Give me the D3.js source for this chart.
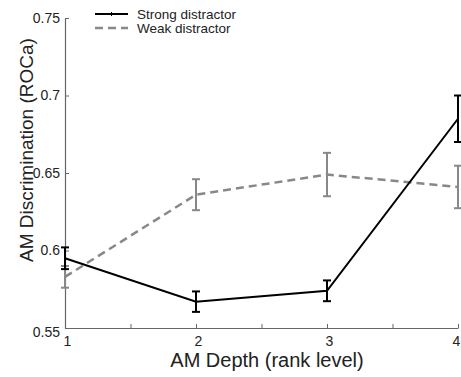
<!DOCTYPE html>
<html><head><meta charset="utf-8">
<script src="https://cdn.jsdelivr.net/npm/d3@7"></script>
<style>body{margin:0;background:#fff}svg{display:block}text{font-family:"Liberation Sans",Arial,sans-serif}</style>
</head><body>
<svg id="c" width="461" height="377"></svg>
<script>
const depths = [1, 2, 3, 4];
const strongMean = [0.595, 0.567, 0.574, 0.685];
const strongErr = [0.007, 0.0066, 0.0067, 0.015];
const weakMean = [0.583, 0.636, 0.649, 0.641];
const weakErr = [0.007, 0.010, 0.014, 0.0137];
const xTicks = [1, 1.5, 2, 2.5, 3, 3.5, 4];
const xTickLabels = ["1", "", "2", "", "3", "", "4"];
const yTicks = [0.55, 0.6, 0.65, 0.7, 0.75];
const yTickLabels = ["0.55", "0.6", "0.65", "0.7", "0.75"];
const seriesNames = ["Strong distractor", "Weak distractor"];

const svg = d3.select("#c");
const x = d3.scaleLinear().domain([1, 4]).range([65, 458]);
const y = d3.scaleLinear().domain([0.55, 0.75]).range([328, 18]);
const axisColor = "#666";

// axes
const xa = svg.append("g").attr("transform", `translate(0,${y(0.55)})`)
  .call(d3.axisBottom(x).tickValues(xTicks).tickFormat((d,i)=>xTickLabels[i]).tickSizeInner(-4).tickSizeOuter(0).tickPadding(8));
const ya = svg.append("g").attr("transform", `translate(${x(1)},0)`)
  .call(d3.axisLeft(y).tickValues(yTicks).tickFormat((d,i)=>yTickLabels[i]).tickSizeInner(-4).tickSizeOuter(0).tickPadding(5));
[xa, ya].forEach(g => {
  g.select(".domain").attr("stroke", axisColor).attr("stroke-width", 1.2);
  g.selectAll(".tick line").attr("stroke", axisColor);
  g.selectAll(".tick text").attr("fill", "#222").style("font-size", "14px");
});
xa.selectAll(".tick text").attr("dx", (d)=> d===4 ? "-2" : "2");
ya.selectAll(".tick text").filter((d)=>d===0.55).attr("dy", "0.6em");

// axis labels
svg.append("text").attr("x", 267).attr("y", 367).attr("text-anchor", "middle")
  .style("font-size", "20px").attr("fill", "#222").text("AM Depth (rank level)");
svg.append("text").attr("transform", "translate(33,150) rotate(-90)").attr("text-anchor", "middle")
  .style("font-size", "19px").attr("fill", "#222").text("AM Discrimination (ROCa)");

const line = d3.line().x((d,i)=>x(depths[i])).y(d=>y(d));

function series(mean, err, color, width, dash) {
  const g = svg.append("g");
  g.append("path").datum(mean).attr("d", line).attr("fill", "none")
    .attr("stroke", color).attr("stroke-width", width).attr("stroke-dasharray", dash);
  const cap = 4;
  mean.forEach((m, i) => {
    const cx = x(depths[i]);
    const e = err[i];
    g.append("line").attr("x1", cx).attr("x2", cx).attr("y1", y(m - e)).attr("y2", y(m + e))
      .attr("stroke", color).attr("stroke-width", 2);
    [m - e, m + e].forEach(v => g.append("line").attr("x1", cx - cap).attr("x2", cx + cap)
      .attr("y1", y(v)).attr("y2", y(v)).attr("stroke", color).attr("stroke-width", 2));
  });
}
series(weakMean, weakErr, "#888", 2.5, "8,5");
series(strongMean, strongErr, "#000", 2, null);

// legend
const leg = svg.append("g");
const legItems = [
  {name: seriesNames[0], color: "#000", w: 2, dash: null, y: 14},
  {name: seriesNames[1], color: "#888", w: 2.5, dash: "8,5", y: 28}
];
legItems.forEach(it => {
  leg.append("line").attr("x1", 95).attr("x2", 128).attr("y1", it.y).attr("y2", it.y)
    .attr("stroke", it.color).attr("stroke-width", it.w).attr("stroke-dasharray", it.dash);
  leg.append("text").attr("x", 137).attr("y", it.y + 5).style("font-size", "13.5px").attr("fill", "#222").text(it.name);
});
leg.append("line").attr("x1", 111.5).attr("x2", 111.5).attr("y1", 12).attr("y2", 16).attr("stroke", "#000").attr("stroke-width", 1);
</script>
</body></html>
